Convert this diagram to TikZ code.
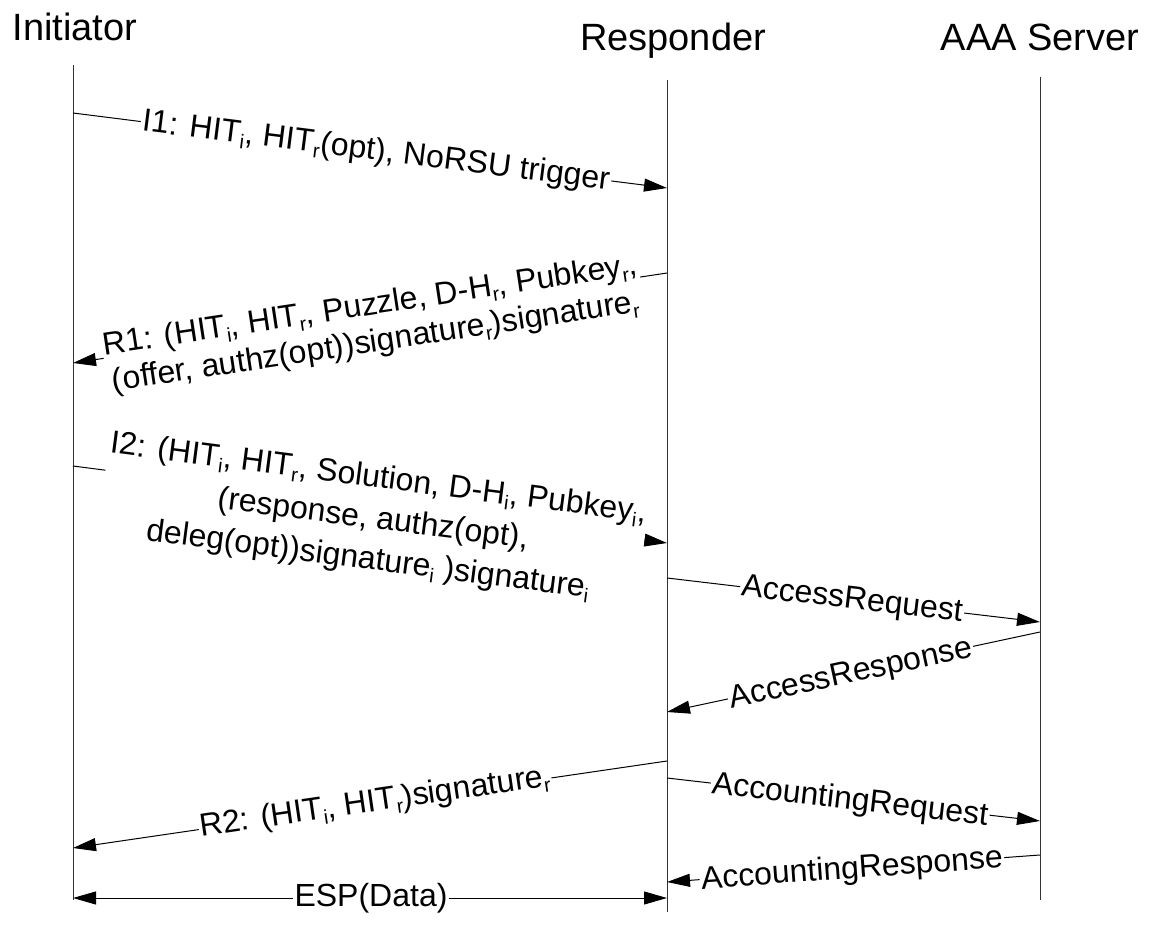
\documentclass[tikz,border=0pt]{standalone}
\usepackage{fontspec}
\setmainfont{Liberation Sans}
\usetikzlibrary{arrows.meta}
% lowered small index, as in HIT_i
\newcommand{\lo}[1]{\raisebox{-0.17em}{\fontsize{20}{20}\selectfont #1}}

\begin{document}
\begin{tikzpicture}[x=1pt,y=-1pt,
  head/.style={font=\fontsize{38}{44}\selectfont, anchor=base, inner sep=0pt},
  lifeline/.style={line width=1pt, draw=black!80},
  msg/.style={line width=1pt, -{Triangle[length=23pt,width=13pt]}},
  both/.style={line width=1pt, {Triangle[length=23pt,width=13pt]}-{Triangle[length=23pt,width=13pt]}},
  lbl/.style={font=\fontsize{32}{37}\selectfont, fill=white, inner sep=1.5pt, align=center},
]
\useasboundingbox (0,0) rectangle (1152,941);

% participants
\node[head] (ini) at (75,41) {Initiator};
\node[head] (res) at (673,51) {Responder};
\node[head] (aaa) at (1040,51) {AAA Server};

% lifelines
\coordinate (iniT) at (73,65);   \coordinate (iniB) at (73,900);
\coordinate (resT) at (667,80);  \coordinate (resB) at (667,912);
\coordinate (aaaT) at (1040,77); \coordinate (aaaB) at (1040,900);
\draw[lifeline] (iniT) -- (iniB);
\draw[lifeline] (resT) -- (resB);
\draw[lifeline] (aaaT) -- (aaaB);

% message end points
\coordinate (i1a) at (73,113);   \coordinate (i1b) at (667,188);
\coordinate (r1a) at (667,273);  \coordinate (r1b) at (73,363);
\coordinate (i2a) at (73,466);   \coordinate (i2b) at (667,543);
\coordinate (aqa) at (667,578);  \coordinate (aqb) at (1040,622);
\coordinate (apa) at (1040,632); \coordinate (apb) at (667,712);
\coordinate (r2a) at (667,761);  \coordinate (r2b) at (73,848);
\coordinate (cqa) at (667,778);  \coordinate (cqb) at (1040,821);
\coordinate (cpa) at (1040,855); \coordinate (cpb) at (667,882);
\coordinate (espa) at (73,898);  \coordinate (espb) at (667,898);

% base exchange
\draw[msg] (i1a) -- (i1b);
\node[lbl, rotate=-7.2] (i1) at (376,152) {I1: HIT\lo{i}, HIT\lo{r}(opt), NoRSU trigger};

\draw[msg] (r1a) -- (r1b);
\node[lbl, rotate=8.6] (r1) at (373,325)
  {R1: (HIT\lo{i}, HIT\lo{r}, Puzzle, D-H\lo{r}, Pubkey\lo{r},\\(offer, authz(opt))signature\lo{r})signature\lo{r}};

\draw[msg] (i2a) -- (i2b);
\node[lbl, rotate=-7.4, font=\fontsize{32}{41}\selectfont] (i2) at (373,520)
  {I2: (HIT\lo{i}, HIT\lo{r}, Solution, D-H\lo{i}, Pubkey\lo{i},\\(response, authz(opt),\\deleg(opt))signature\lo{i} )signature\lo{i}};

% AAA exchange
\draw[msg] (aqa) -- (aqb);
\node[lbl, rotate=-6.7] (aq) at (852,601) {AccessRequest};

\draw[msg] (apa) -- (apb);
\node[lbl, rotate=12.1] (ap) at (851,675) {AccessResponse};

\draw[msg] (r2a) -- (r2b);
\node[lbl, rotate=8.3] (r2) at (375,803) {R2: (HIT\lo{i}, HIT\lo{r})signature\lo{r}};

\draw[msg] (cqa) -- (cqb);
\node[lbl, rotate=-6.6] (cq) at (850,801) {AccountingRequest};

\draw[msg] (cpa) -- (cpb);
\node[lbl, rotate=4.1] (cp) at (852,870) {AccountingResponse};

% data traffic
\draw[both] (espa) -- (espb);
\node[lbl] (esp) at (371,898) {ESP(Data)};
\end{tikzpicture}
\end{document}
